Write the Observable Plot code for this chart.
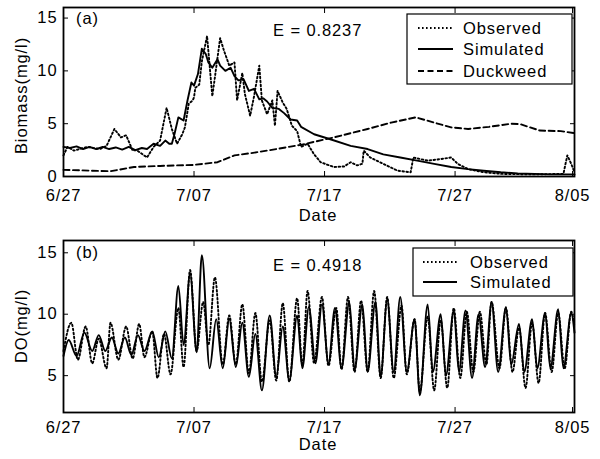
<!DOCTYPE html>
<html><head><meta charset="utf-8">
<script src="https://cdn.jsdelivr.net/npm/d3@7"></script>
<script src="https://cdn.jsdelivr.net/npm/@observablehq/plot@0.6"></script>
<style>
body{margin:0;background:#fff;}
#wrap{position:relative;width:600px;height:459px;background:#fff;}
#wrap svg{position:absolute;left:0;}
</style></head><body><div id="wrap"></div>
<script>
// ---- data (day 0 = 6/27) ----
const tickDays = [0, 10, 20, 30, 39];
const tickLabels = ["6/27", "7/07", "7/17", "7/27", "8/05"];
const seriesNamesA = ["Observed", "Simulated", "Duckweed"];
const seriesNamesB = ["Observed", "Simulated"];

const bioObsT = [0,0.3,0.8,1.8,2.8,3.3,3.9,4.4,4.8,5.3,5.6,6.4,6.9,7.4,7.9,8.3,8.7,9.1,9.3,9.6,9.9,10.0,10.1,10.4,10.6,11.0,11.4,11.6,12.0,12.3,12.7,13.1,13.3,13.7,13.9,14.3,14.6,15.0,15.2,15.6,16.0,16.2,16.4,16.8,17.1,17.5,17.9,18.2,18.7,19.2,19.7,20.7,21.5,22.0,22.5,22.9,23.0,23.5,24.5,25.6,26.6,26.8,27.9,28.9,29.7,30.2,31.0,32.2,33.5,36.1,38.3,38.6,38.9,39.1];
const bioObsV = [2.0,2.8,2.45,2.8,2.6,2.9,4.5,3.7,3.9,2.45,2.5,1.8,2.8,3.4,6.5,4.5,3.1,4.0,4.65,6.9,7.2,7.5,8.4,8.7,10.9,13.3,7.6,9.4,13.1,11.9,10.5,10.8,7.2,9.8,7.8,5.75,7.6,10.5,7.2,5.9,7.2,4.8,8.1,7.0,6.4,4.8,4.3,2.8,3.1,2.1,1.35,0.9,0.95,1.35,1.05,1.2,2.45,1.8,1.2,0.55,0.4,1.8,1.5,1.65,1.8,1.2,0.7,0.4,0.25,0.2,0.25,2.0,1.2,0.55];

const bioSimT = [0,0.5,1,1.5,2,2.5,3,3.5,4,4.5,5,5.5,6,6.4,6.9,7.4,7.8,8.1,8.3,8.5,8.8,9.2,9.5,9.8,10.0,10.3,10.6,10.9,11.1,11.4,11.8,12.0,12.4,12.8,13.1,13.4,13.8,14.2,14.6,15.0,15.3,15.6,16.0,16.5,16.9,17.4,17.9,18.2,19.2,20.5,22,23.3,24.5,25.8,27.1,28.4,29.7,31,32.2,33.5,34.8,36.1,37.3,39.15];
const bioSimV = [2.8,2.7,2.85,2.6,2.8,2.6,2.8,2.6,2.75,2.55,2.8,2.5,2.7,2.6,3.1,2.9,3.4,3.1,3.1,4.0,5.6,5.3,7.2,8.9,8.6,9.7,12.1,11.6,10.8,10.3,11.1,10.5,10.0,10.3,9.5,9.1,9.2,8.1,8.3,7.3,7.4,7.1,6.5,6.4,6.0,5.4,5.3,4.7,4.0,3.5,2.9,2.6,2.1,1.8,1.5,1.2,0.9,0.7,0.55,0.4,0.3,0.25,0.2,0.2];

const duckT = [0,3.6,5.4,7.4,10,11.8,13.1,14.3,15.6,18.2,20.7,23.3,25.1,27.0,28.4,29.7,31,32.6,34.3,35.0,36.5,38.1,39.15];
const duckV = [0.63,0.5,0.9,1.0,1.1,1.35,2.0,2.2,2.45,3.0,3.7,4.5,5.1,5.6,5.1,4.65,4.5,4.7,5.0,4.95,4.35,4.3,4.1];

const doSimT = [0,0.4,1.0,1.6,2.2,2.7,3.2,3.7,4.2,4.7,5.2,5.7,6.2,6.8,7.3,7.8,8.3,8.8,9.2,9.7,10.2,10.6,11.2,11.7,12.2,12.7,13.2,13.7,14.2,14.7,15.2,15.8,16.3,16.8,17.3,17.9,18.3,18.8,19.3,19.8,20.3,20.8,21.3,21.9,22.3,22.9,23.3,23.9,24.3,24.8,25.3,25.8,26.3,26.9,27.3,27.9,28.3,28.9,29.3,29.9,30.3,30.8,31.3,31.8,32.3,32.8,33.3,33.9,34.3,34.9,35.3,35.9,36.3,36.9,37.3,37.9,38.3,38.9,39.15];
const doSimV = [6.6,7.9,6.6,8.5,7.0,8.3,7.0,8.1,6.8,8.1,6.7,8.3,7.0,8.6,6.5,8.6,6.4,12.3,7.5,13.3,6.9,14.8,5.6,9.6,5.6,9.6,5.7,9.3,4.9,8.4,3.8,9.9,4.9,9.0,4.6,9.9,5.6,10.6,6.0,10.8,6.0,10.5,5.6,11.0,5.5,10.8,5.3,11.0,4.9,11.2,5.3,11.4,5.3,9.6,3.4,10.8,5.3,10.0,5.0,10.3,5.3,10.3,4.8,10.0,5.7,11.0,5.3,10.6,5.9,9.2,5.3,9.6,5.6,10.1,5.6,10.4,5.6,10.1,8.5];

const doObsT = [0,0.6,1.1,1.7,2.2,2.7,3.3,3.6,4.2,4.8,5.3,5.8,6.2,6.8,7.2,7.7,8.2,8.8,9.2,9.7,10.2,10.7,11.1,11.6,12.2,12.7,13.2,13.7,14.2,14.7,15.2,15.8,16.3,16.8,17.3,17.9,18.3,18.7,19.2,19.8,20.3,20.9,21.3,21.8,22.3,22.8,23.3,23.8,24.3,24.8,25.3,25.9,26.3,26.9,27.3,27.9,28.4,28.9,29.4,29.9,30.4,30.9,31.4,31.9,32.4,32.8,33.4,33.9,34.4,34.9,35.4,35.9,36.4,36.9,37.4,37.9,38.4,38.9,39.15];
const doObsV = [7.0,9.3,6.3,9.0,6.0,8.0,5.6,9.3,6.3,9.0,6.4,9.2,6.5,8.6,4.8,8.4,5.1,10.5,5.7,13.6,7.0,11.0,7.5,13.0,5.9,9.9,5.9,10.8,5.2,10.1,4.5,9.5,4.6,10.9,4.5,11.3,5.8,11.9,6.0,11.4,5.8,10.5,5.5,11.4,5.3,11.1,5.3,11.9,4.8,11.4,4.8,10.7,5.1,9.6,3.7,9.8,3.8,9.5,4.0,10.5,4.8,10.2,5.3,10.2,5.9,11.0,5.6,10.5,5.3,8.9,4.0,9.3,4.4,10.1,5.3,10.1,5.6,10.2,9.0];

// ---- helpers ----
const FONT = "'Liberation Sans', Arial, Helvetica, sans-serif";
const FS = 16.5;
const LS = "0.9px";
const rows = (T, V) => T.map((t, i) => ({t, v: V[i]}));
const styles = {
  Observed: {strokeDasharray: "1.6,2.4", strokeWidth: 1.9},
  Simulated: {strokeDasharray: null, strokeWidth: 1.9},
  Duckweed: {strokeDasharray: "6,3.5", strokeWidth: 1.9}
};
const fmt = d => tickLabels[tickDays.indexOf(d)];

function makePanel({top, height, mt, mb, yDomain, yTicks, series, curve, ylabel, ylabelShift, tag, eText, legend, xPad, dateY}) {
  const marks = [];
  for (const s of series) {
    const st = styles[s.name];
    marks.push(Plot.line(s.data, {x: "t", y: "v", stroke: "black", strokeWidth: st.strokeWidth,
      strokeDasharray: st.strokeDasharray, curve}));
  }
  marks.push(
    Plot.frame({stroke: "black", strokeWidth: 1.8}),
    Plot.axisX({anchor: "bottom", ticks: tickDays, tickFormat: fmt, tickSize: -5, tickPadding: xPad, label: null, fontSize: FS}),
    Plot.axisX({anchor: "top", ticks: tickDays, tickFormat: () => "", tickSize: -5, label: null}),
    Plot.axisY({anchor: "left", ticks: yTicks, tickSize: -5, tickPadding: 11, label: null, fontSize: FS}),
    Plot.axisY({anchor: "right", ticks: yTicks, tickFormat: () => "", tickSize: -5, label: null})
  );
  const svg = Plot.plot({
    width: 600, height, marginTop: mt, marginBottom: mb, marginLeft: 63, marginRight: 26,
    x: {type: "linear", domain: [0, 39.15]},
    y: {domain: yDomain},
    style: {fontFamily: FONT, fontSize: FS + "px", letterSpacing: LS, color: "black", background: "white", overflow: "visible"},
    marks
  });
  svg.style.top = top + "px";
  const g = d3.select(svg).append("g").attr("font-family", FONT).attr("fill", "black")
    .attr("text-anchor", "start").attr("font-size", FS);
  // axis titles
  g.append("text").attr("x", 318).attr("y", dateY).attr("text-anchor", "middle").text("Date");
  const yc = mt + (height - mt - mb) / 2 + ylabelShift;
  g.append("text").attr("transform", `translate(27,${yc}) rotate(-90)`).attr("text-anchor", "middle").text(ylabel);
  // panel tag and efficiency
  g.append("text").attr("x", 76).attr("y", tag.y).text(tag.text);
  g.append("text").attr("x", 273).attr("y", eText.y).text(eText.text);
  // legend
  const L = legend;
  g.append("rect").attr("x", L.x0).attr("y", L.y0).attr("width", L.x1 - L.x0).attr("height", L.y1 - L.y0)
    .attr("fill", "white").attr("stroke", "black").attr("stroke-width", 1.2);
  series.forEach((s, i) => {
    const y = L.rows[i];
    const st = styles[s.name];
    g.append("line").attr("x1", L.lx0).attr("x2", L.lx1).attr("y1", y).attr("y2", y)
      .attr("stroke", "black").attr("stroke-width", st.strokeWidth).attr("stroke-dasharray", st.strokeDasharray);
    g.append("text").attr("x", L.tx).attr("y", y).attr("dy", "0.36em").text(s.name);
  });
  document.getElementById("wrap").appendChild(svg);
}

makePanel({
  top: 0, height: 229, mt: 7, mb: 53, yDomain: [0, 16], yTicks: [0, 5, 10, 15],
  curve: "linear", xPad: 18, dateY: 221, ylabelShift: 4,
  series: [
    {name: seriesNamesA[0], data: rows(bioObsT, bioObsV)},
    {name: seriesNamesA[1], data: rows(bioSimT, bioSimV)},
    {name: seriesNamesA[2], data: rows(duckT, duckV)}
  ],
  ylabel: "Biomass(mg/l)",
  tag: {text: "(a)", y: 24}, eText: {text: "E = 0.8237", y: 36},
  legend: {x0: 407, x1: 572, y0: 14, y1: 84, rows: [28, 49, 71], lx0: 418, lx1: 453, tx: 463}
});

makePanel({
  top: 230, height: 229, mt: 10, mb: 47, yDomain: [2, 16], yTicks: [5, 10, 15],
  curve: "monotone-x", xPad: 14, dateY: 220, ylabelShift: 0,
  series: [
    {name: seriesNamesB[0], data: rows(doObsT, doObsV)},
    {name: seriesNamesB[1], data: rows(doSimT, doSimV)}
  ],
  ylabel: "DO(mg/l)",
  tag: {text: "(b)", y: 28}, eText: {text: "E = 0.4918", y: 41},
  legend: {x0: 413, x1: 573, y0: 18, y1: 66, rows: [32, 52], lx0: 423, lx1: 457, tx: 470}
});
</script></body></html>
